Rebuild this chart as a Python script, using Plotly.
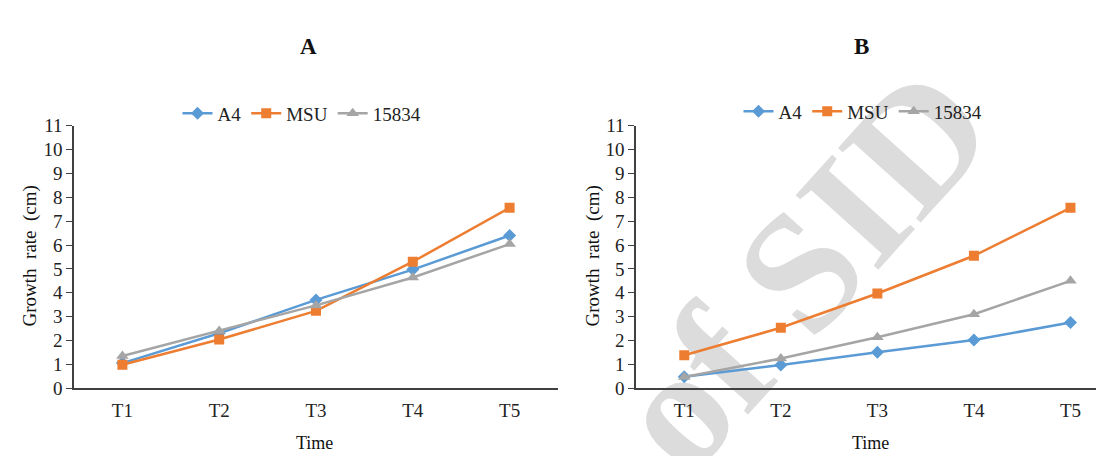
import plotly.graph_objects as go

categories = ["T1", "T2", "T3", "T4", "T5"]

a_A4 = [1.05, 2.3, 3.7, 4.97, 6.4]
a_MSU = [0.98, 2.04, 3.24, 5.3, 7.56]
a_15834 = [1.35, 2.4, 3.47, 4.64, 6.04]

b_A4 = [0.48, 0.97, 1.5, 2.02, 2.75]
b_MSU = [1.38, 2.53, 3.97, 5.55, 7.56]
b_15834 = [0.47, 1.24, 2.13, 3.1, 4.5]

series_names = ["A4", "MSU", "15834"]
colors = ["#5B9BD5", "#ED7D31", "#A5A5A5"]
symbols = ["diamond", "square", "triangle-up"]
msizes = [10, 10, 11]

y_ticks = list(range(0, 12))

FONT = "Liberation Serif"
W, H = 1104, 456

fig = go.Figure()

# Watermark (drawn below traces)
fig.add_shape(type="rect", xref="paper", yref="paper",
              x0=570/W, x1=990/W, y0=1-440/H, y1=1-60/H,
              line=dict(width=0), fillcolor="rgba(0,0,0,0)", layer="below",
              label=dict(text="<b>of SID</b>", textangle=-48,
                         font=dict(family=FONT, size=170, color="#DCDCDC"),
                         textposition="middle center"))

panels = [
    ("x", "y", "legend", [a_A4, a_MSU, a_15834]),
    ("x2", "y2", "legend2", [b_A4, b_MSU, b_15834]),
]
for xa, ya, lg, data in panels:
    for name, vals, c, s, ms in zip(series_names, data, colors, symbols, msizes):
        fig.add_trace(go.Scatter(
            x=categories, y=vals, name=name, xaxis=xa, yaxis=ya, legend=lg,
            mode="lines+markers",
            line=dict(color=c, width=2.5),
            marker=dict(symbol=s, size=ms, color=c),
        ))

axis_x = dict(type="category", showgrid=False, showline=True,
              linecolor="#404040", linewidth=1.5, ticks="", zeroline=False,
              tickfont=dict(family=FONT, size=19, color="#222"), ticklabelstandoff=4)
axis_y = dict(range=[0, 11], tickvals=y_ticks, showgrid=False, showline=True,
              linecolor="#404040", linewidth=1.5, ticks="outside", ticklen=6,
              tickcolor="#404040", zeroline=False,
              tickfont=dict(family=FONT, size=19, color="#222"))

fig.update_layout(
    width=W, height=H,
    margin=dict(l=0, r=0, t=0, b=0),
    paper_bgcolor="white", plot_bgcolor="rgba(0,0,0,0)",
    font=dict(family=FONT, color="#222"),
    xaxis=dict(axis_x, domain=[66/W, 550/W], range=[-0.5, 4.5], anchor="y"),
    yaxis=dict(axis_y, domain=[1-388/H, 1-113/H], anchor="x"),
    xaxis2=dict(axis_x, domain=[628/W, 1.0], range=[-0.5, 4.43], anchor="y2"),
    yaxis2=dict(axis_y, domain=[1-388/H, 1-113/H], anchor="x2"),
    legend=dict(orientation="h", x=294/W, xanchor="center", y=1-100/H, yanchor="middle",
                font=dict(family=FONT, size=19, color="#222"), bgcolor="rgba(0,0,0,0)",
                itemwidth=30, tracegroupgap=0),
    legend2=dict(orientation="h", x=855/W, xanchor="center", y=1-98/H, yanchor="middle",
                 font=dict(family=FONT, size=19, color="#222"), bgcolor="rgba(0,0,0,0)",
                 itemwidth=30, tracegroupgap=0),
    showlegend=True,
)

annotations = [
    dict(text="<b>A</b>", x=300/W, y=1-30/H, font=dict(size=23)),
    dict(text="<b>B</b>", x=853/W, y=1-30/H, font=dict(size=23)),
    dict(text="Time", x=306/W, y=1-446/H, font=dict(size=18)),
    dict(text="Time", x=862/W, y=1-446/H, font=dict(size=18)),
    dict(text="Growth  rate  (cm)", x=22/W, y=1-250/H, textangle=-90, font=dict(size=19)),
    dict(text="Growth  rate  (cm)", x=585/W, y=1-250/H, textangle=-90, font=dict(size=19)),
]
for a in annotations:
    a.update(xref="paper", yref="paper", showarrow=False, xanchor="center", yanchor="middle")
    a["font"].update(family=FONT, color="#111")
fig.update_layout(annotations=annotations)

fig.write_html("out.html")
